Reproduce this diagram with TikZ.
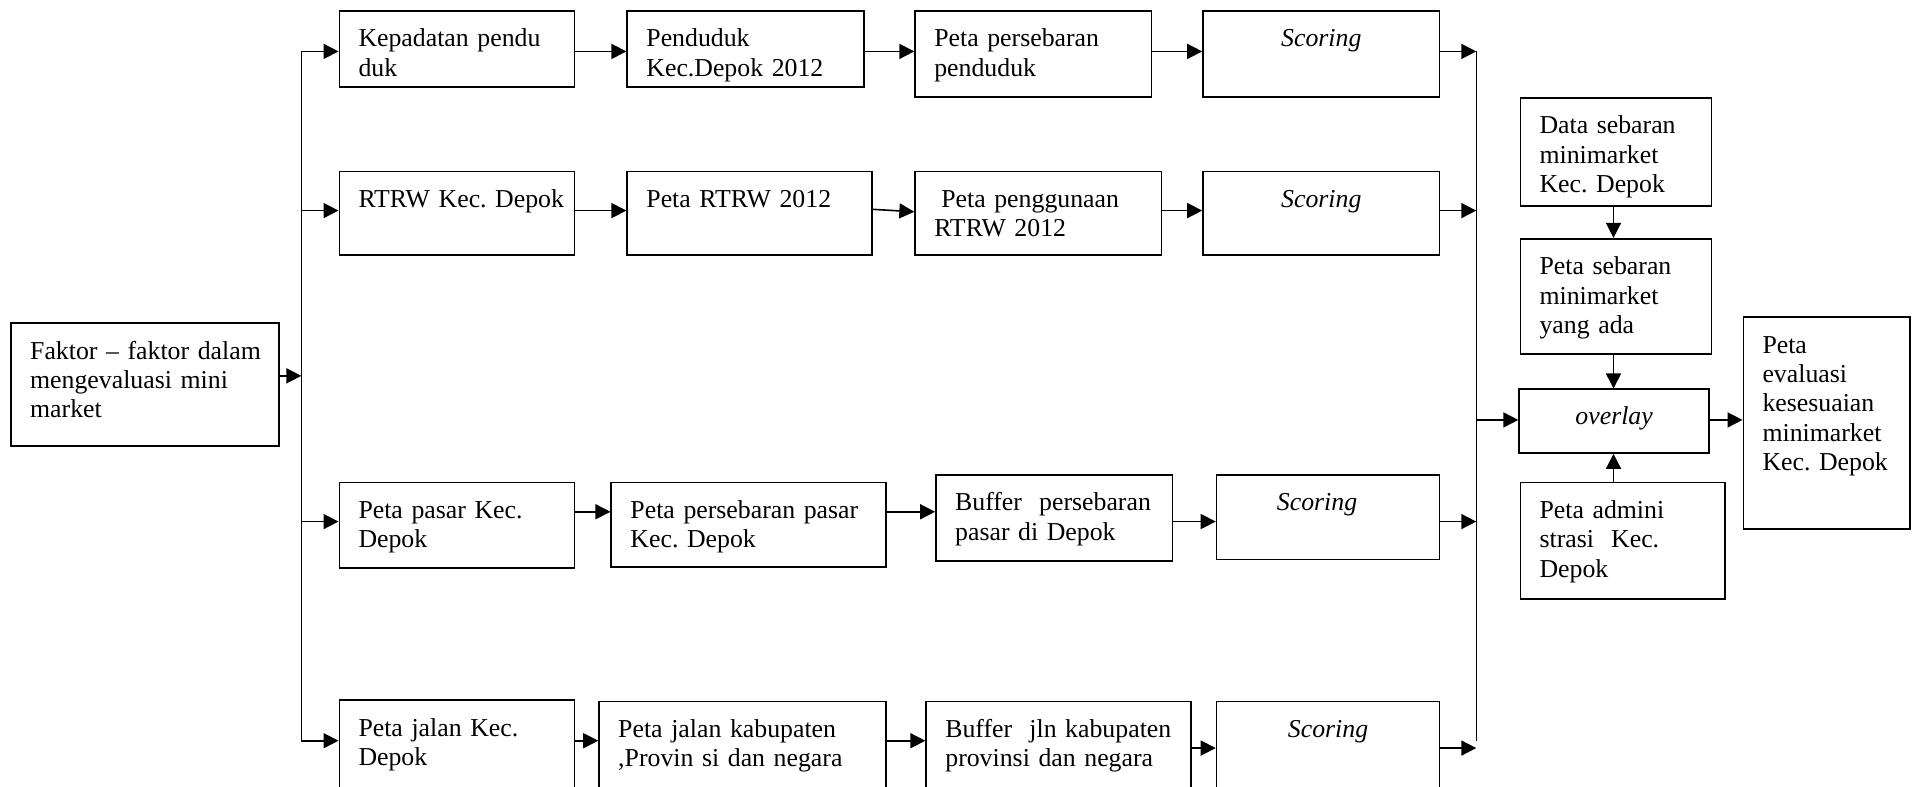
\documentclass[tikz,border=0pt]{standalone}
\usepackage{fontspec}
\setmainfont{Liberation Serif}
\frenchspacing
\usetikzlibrary{arrows.meta,fit,calc}
\newcommand\mkbox[6]{%
  \node[box, fit={(#2,#3) (#4,#5)}] (#1) {};
  \node[txt, anchor=base west] (#1-t) at ([shift={(9.8pt,-18.4pt)}]#1.north west) {#6};}
\newcommand\mkscore[6]{%
  \node[box, fit={(#2,#3) (#4,#5)}] (#1) {};
  \node[ctxt, anchor=base] (#1-t) at ([shift={(#6,-18.4pt)}]#1.north) {Scoring};}
\begin{document}
\begin{tikzpicture}[x=0.6126pt,y=-0.6122pt,
  box/.style={draw, line width=0.85pt, inner sep=0pt, rectangle},
  txt/.style={inner sep=0pt, align=left, text width=200pt, font=\fontsize{12.9pt}{14.7pt}\selectfont},
  ctxt/.style={inner sep=0pt, font=\fontsize{12.9pt}{14.7pt}\selectfont\itshape},
  ln/.style={line width=0.75pt},
  arr/.style={line width=0.8pt, -{Triangle[length=7.5pt,width=7.5pt]}}]
\fill[white] (0,0) rectangle (1568,642);
\useasboundingbox (0,0) rectangle (1568,642);

% left source
\mkbox{fak}{9}{264}{228}{364}{Faktor – faktor dalam\\mengevaluasi mini\\market}

% row 1
\mkbox{kep}{277}{9}{469}{71}{Kepadatan pendu\\duk}
\mkbox{pen}{512}{9}{705}{71}{Penduduk\\Kec.Depok 2012}
\mkbox{pps}{747}{9}{940}{79}{Peta persebaran\\penduduk}
\mkscore{sc1}{982}{9}{1175}{79}{0pt}

% row 2
\mkbox{rtrw}{277}{140}{469}{208}{RTRW Kec. Depok}
\mkbox{prtrw}{512}{140}{712}{208}{Peta RTRW 2012}
\mkbox{ppg}{747}{140}{948}{208}{\hspace*{3.5pt}Peta penggunaan\\RTRW 2012}
\mkscore{sc2}{982}{140}{1175}{208}{0pt}

% row 3
\mkbox{pas}{277}{394}{469}{464}{Peta pasar Kec.\\Depok}
\mkbox{ppas}{499}{394}{723}{463}{Peta persebaran pasar\\Kec. Depok}
\mkbox{bpas}{764}{388}{957}{458}{Buffer\ \ persebaran\\pasar di Depok}
\mkscore{sc3}{993}{388}{1175}{457}{-5.5pt}

% row 4
\mkbox{jal}{277}{572}{469}{648}{Peta jalan Kec.\\Depok}
\mkbox{jkab}{489}{573}{723}{648}{Peta jalan kabupaten\\,Provin si dan negara}
\mkbox{bjln}{756}{573}{972}{648}{Buffer\ \ jln kabupaten\\provinsi dan negara}
\mkscore{sc4}{993}{573}{1175}{648}{0pt}

% right column
\mkbox{dsm}{1241}{80}{1397}{168}{Data sebaran\\minimarket\\Kec. Depok}
\mkbox{psm}{1241}{195}{1397}{289}{Peta sebaran\\minimarket\\yang ada}
\node[box, fit={(1240,318) (1395,370)}] (ov) {};
\node[ctxt, anchor=base] (ov-t) at ([yshift=-1.6pt]ov.center) {overlay};
\mkbox{adm}{1241}{394}{1408}{489}{Peta admini\\strasi\ \ Kec.\\Depok}
\mkbox{evl}{1423}{259}{1559}{432}{Peta\\evaluasi\\kesesuaian\\minimarket\\Kec. Depok}

% helper coordinates
\coordinate (y1) at (0,42);
\coordinate (y2) at (0,172);
\coordinate (y3a) at (0,418);
\coordinate (y3b) at (0,426);
\coordinate (y4a) at (0,605);
\coordinate (y4b) at (0,611);
\coordinate (L1) at (246,42);
\coordinate (L2) at (246,172);
\coordinate (L3) at (246,426);
\coordinate (L4) at (246,605);
\coordinate (LF) at (246,307);
\coordinate (R1) at (1205,42);
\coordinate (R2) at (1205,172);
\coordinate (R3) at (1205,426);
\coordinate (R4) at (1205,611);
\coordinate (Rend) at (1205,605);
\coordinate (RO) at (1205,343);
\coordinate (cx) at (1317,0);
\coordinate (s2a) at (712,171);
\coordinate (s2b) at (747,173);

% left trunk
\draw[ln] (L1) -- (L4);
\draw[arr] (fak.east |- LF) -- (LF);
\draw[arr] (L1) -- (kep.west |- L1);
\draw[arr] (L2) -- (rtrw.west |- L2);
\draw[arr] (L3) -- (pas.west |- L3);
\draw[arr] (L4) -- (jal.west |- L4);

% row 1
\draw[arr] (kep.east |- y1) -- (pen.west |- y1);
\draw[arr] (pen.east |- y1) -- (pps.west |- y1);
\draw[arr] (pps.east |- y1) -- (sc1.west |- y1);
% row 2
\draw[arr] (rtrw.east |- y2) -- (prtrw.west |- y2);
\draw[arr] (prtrw.east |- s2a) -- (ppg.west |- s2b);
\draw[arr] (ppg.east |- y2) -- (sc2.west |- y2);
% row 3
\draw[arr] (pas.east |- y3a) -- (ppas.west |- y3a);
\draw[arr] (ppas.east |- y3a) -- (bpas.west |- y3a);
\draw[arr] (bpas.east |- y3b) -- (sc3.west |- y3b);
% row 4
\draw[arr] (jal.east |- y4a) -- (jkab.west |- y4a);
\draw[arr] (jkab.east |- y4a) -- (bjln.west |- y4a);
\draw[arr] (bjln.east |- y4b) -- (sc4.west |- y4b);

% right trunk
\draw[ln] (R1) -- (Rend);
\draw[arr] (sc1.east |- R1) -- (R1);
\draw[arr] (sc2.east |- R2) -- (R2);
\draw[arr] (sc3.east |- R3) -- (R3);
\draw[arr] (sc4.east |- R4) -- (R4);
\draw[arr] (RO) -- (ov.west |- RO);
\draw[arr] (ov.east |- RO) -- (evl.west |- RO);

% right column
\draw[arr] (dsm.south -| cx) -- (psm.north -| cx);
\draw[arr] (psm.south -| cx) -- (ov.north -| cx);
\draw[arr] (adm.north -| cx) -- (ov.south -| cx);
\end{tikzpicture}
\end{document}
